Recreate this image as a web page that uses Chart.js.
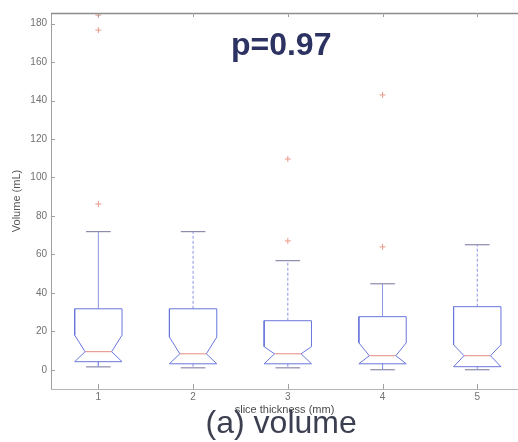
<!DOCTYPE html>
<html>
<head>
<meta charset="utf-8">
<script src="https://cdn.jsdelivr.net/npm/chart.js@4.4.1/dist/chart.umd.min.js"></script>
<style>
  html, body { margin: 0; padding: 0; background: #ffffff; }
  canvas { display: block; }
</style>
</head>
<body>
<canvas id="c" width="518" height="442"></canvas>
<script>
// ---------------- data ----------------
const categories = [1, 2, 3, 4, 5];
const xTickLabels = ['1', '2', '3', '4', '5'];
const yTickValues = [0, 20, 40, 60, 80, 100, 120, 140, 160, 180];

const q3Values       = [31.7, 31.7, 25.5, 27.6, 32.8];
const notchHigh      = [18.0, 17.0, 12.0, 14.0, 13.0];
const medianValues   = [9.4, 8.3, 8.3, 7.3, 7.3];
const notchLow       = [4.2, 3.1, 3.1, 3.1, 1.6];
const upperWhiskers  = [71.8, 71.8, 56.7, 44.7, 65.0];
const lowerWhiskers  = [1.5, 1.0, 1.0, 0.0, 0.0];
const outlierValues  = [[86.2, 176.6, 184.4], [], [67.0, 109.6], [63.9, 142.9], []];

const pValueText = 'p=0.97';
const yAxisTitle = 'Volume (mL)';
const xAxisTitle = 'slice thickness (mm)';
const figureCaption = '(a) volume';

// ---------------- style ----------------
const BOX_HALF = 0.25;
const NOTCH_HALF = 0.14;
const CAP_HALF = 0.13;
const BOX_COLOR = '#6a76dc';
const WHISKER_COLOR = '#8c94e4';
const CAP_COLOR = '#74749c';
const MEDIAN_COLOR = '#e48a7c';
const OUTLIER_COLOR = '#e89a8a';
const whiskerDashed = [false, true, true, false, true];
const FONT = '"Liberation Sans", Arial, Helvetica, sans-serif';

// ---------------- datasets ----------------
const datasets = [];
const lineDs = (points, color, dash) => ({
  type: 'scatter',
  data: points,
  showLine: true,
  borderColor: color,
  borderWidth: 1,
  borderDash: dash || [],
  pointRadius: 0,
  pointHoverRadius: 0,
  fill: false,
  tension: 0
});

categories.forEach((c, i) => {
  const q3 = q3Values[i], nh = notchHigh[i], md = medianValues[i], nl = notchLow[i];
  datasets.push(lineDs([
    {x: c - BOX_HALF, y: q3},
    {x: c - BOX_HALF, y: nh},
    {x: c - NOTCH_HALF, y: md},
    {x: c - BOX_HALF, y: nl},
    {x: c + BOX_HALF, y: nl},
    {x: c + NOTCH_HALF, y: md},
    {x: c + BOX_HALF, y: nh},
    {x: c + BOX_HALF, y: q3},
    {x: c - BOX_HALF, y: q3}
  ], BOX_COLOR));
  datasets.push(lineDs([{x: c - NOTCH_HALF, y: md}, {x: c + NOTCH_HALF, y: md}], MEDIAN_COLOR));
  datasets.push(lineDs([{x: c, y: q3}, {x: c, y: upperWhiskers[i]}], WHISKER_COLOR, whiskerDashed[i] ? [3, 2] : []));
  datasets.push(lineDs([{x: c, y: nl}, {x: c, y: lowerWhiskers[i]}], WHISKER_COLOR, whiskerDashed[i] ? [3, 2] : []));
  datasets.push(lineDs([{x: c - CAP_HALF, y: upperWhiskers[i]}, {x: c + CAP_HALF, y: upperWhiskers[i]}], CAP_COLOR));
  datasets.push(lineDs([{x: c - CAP_HALF, y: lowerWhiskers[i]}, {x: c + CAP_HALF, y: lowerWhiskers[i]}], CAP_COLOR));
});

const outlierPoints = [];
categories.forEach((c, i) => outlierValues[i].forEach(v => outlierPoints.push({x: c, y: v})));
datasets.push({
  type: 'scatter',
  data: outlierPoints,
  showLine: false,
  pointStyle: 'cross',
  pointRadius: 3,
  pointBorderWidth: 1,
  pointBorderColor: OUTLIER_COLOR,
  pointBackgroundColor: OUTLIER_COLOR,
  borderColor: OUTLIER_COLOR
});

// ---------------- plugins ----------------
const frameAndLabels = {
  id: 'frameAndLabels',
  afterDraw(chart) {
    const {ctx, chartArea: a, scales} = chart;
    const xs = scales.x, ys = scales.y;
    ctx.save();
    ctx.lineWidth = 1;
    ctx.strokeStyle = '#a0a0a0';
    ctx.beginPath(); ctx.moveTo(a.left + 0.5, a.top); ctx.lineTo(a.left + 0.5, a.bottom); ctx.stroke();
    ctx.strokeStyle = '#b4b4b4';
    ctx.beginPath(); ctx.moveTo(a.left, a.bottom + 0.5); ctx.lineTo(a.right, a.bottom + 0.5); ctx.stroke();
    ctx.strokeStyle = '#8c8c8c';
    ctx.lineWidth = 1.5;
    ctx.beginPath(); ctx.moveTo(a.left, a.top + 0.5); ctx.lineTo(a.right, a.top + 0.5); ctx.stroke();
    ctx.lineWidth = 1;
    ctx.strokeStyle = '#a0a0a0';
    yTickValues.forEach(v => {
      const y = Math.round(ys.getPixelForValue(v)) + 0.5;
      ctx.beginPath(); ctx.moveTo(a.left, y); ctx.lineTo(a.left + 4, y); ctx.stroke();
    });
    categories.forEach(c => {
      const x = Math.round(xs.getPixelForValue(c)) + 0.5;
      ctx.beginPath(); ctx.moveTo(x, a.bottom); ctx.lineTo(x, a.bottom - 5); ctx.stroke();
      ctx.beginPath(); ctx.moveTo(x, a.top); ctx.lineTo(x, a.top + 4); ctx.stroke();
    });
    ctx.fillStyle = '#2c3262';
    ctx.font = 'bold 32px ' + FONT;
    ctx.textAlign = 'center';
    ctx.textBaseline = 'middle';
    ctx.fillText(pValueText, xs.getPixelForValue(2.93), ys.getPixelForValue(168.5));
    ctx.fillStyle = '#3c3f50';
    ctx.font = 'normal 32px ' + FONT;
    ctx.fillText(figureCaption, xs.getPixelForValue(2.93), 424);
    ctx.restore();
  }
};

new Chart(document.getElementById('c'), {
  type: 'scatter',
  data: { datasets },
  options: {
    responsive: false,
    animation: false,
    devicePixelRatio: 1,
    layout: { autoPadding: false, padding: { top: 13, left: 0, right: 0, bottom: 33 } },
    plugins: {
      legend: { display: false },
      tooltip: { enabled: false },
      title: { display: false }
    },
    scales: {
      x: {
        type: 'linear',
        position: 'bottom',
        min: 0.5,
        max: 5.43,
        afterBuildTicks: s => { s.ticks = categories.map(v => ({ value: v })); },
        afterFit: s => { s.height = 20; s.paddingLeft = 0; s.paddingRight = 0; },
        grid: { display: false, drawTicks: false },
        border: { display: false },
        ticks: {
          callback: (v) => { const i = categories.indexOf(v); return i >= 0 ? xTickLabels[i] : ''; },
          color: '#707070',
          font: { family: FONT, size: 10 },
          padding: 2,
          maxRotation: 0,
          autoSkip: false
        },
        title: {
          display: true,
          text: xAxisTitle,
          color: '#4a4a4a',
          font: { family: FONT, size: 11, lineHeight: 1 },
          padding: { top: 0, bottom: -6.5 }
        }
      },
      y: {
        type: 'linear',
        min: -10,
        max: 185.5,
        afterBuildTicks: s => { s.ticks = yTickValues.map(v => ({ value: v })); },
        afterFit: s => { s.width = 51; s.paddingTop = 0; s.paddingBottom = 0; },
        grid: { display: false, drawTicks: false },
        border: { display: false },
        ticks: {
          color: '#707070',
          font: { family: FONT, size: 10 },
          padding: 4,
          autoSkip: false
        },
        title: {
          display: true,
          text: yAxisTitle,
          color: '#555555',
          font: { family: FONT, size: 11, lineHeight: 1 },
          padding: { top: 11.5, bottom: 0 }
        }
      }
    }
  },
  plugins: [frameAndLabels]
});
</script>
</body>
</html>
